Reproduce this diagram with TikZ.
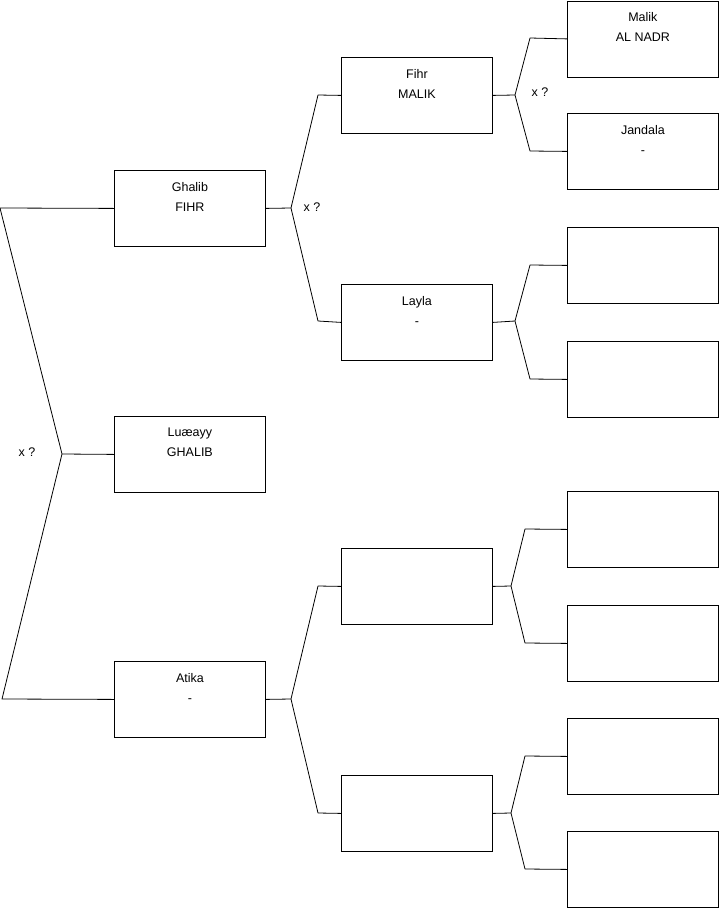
\documentclass[tikz,border=0pt]{standalone}
\usepackage{fontspec}
\setmainfont{Liberation Sans}
\usetikzlibrary{calc}
\tikzset{
  pbox/.style={draw=black, line width=0.8pt, minimum width=151pt, minimum height=76pt, inner sep=0pt, anchor=north west},
  ptext/.style={anchor=north, align=center, font=\fontsize{12.5}{20}\selectfont, inner sep=0pt},
  conn/.style={draw=black, line width=0.8pt, line join=round},
  qlabel/.style={font=\fontsize{12.5}{14}\selectfont, inner sep=0pt}
}
\begin{document}
\begin{tikzpicture}[x=1pt,y=-1pt]
\useasboundingbox (0,0) rectangle (719,908);
% level 1
\node[pbox] (ghalib) at (114,170) {};
\node[pbox] (luaayy) at (114,416) {};
\node[pbox] (atika) at (114,661) {};
% level 2
\node[pbox] (fihr) at (341,57) {};
\node[pbox] (layla) at (341,284) {};
\node[pbox] (e2a) at (341,548) {};
\node[pbox] (e2b) at (341,775) {};
% level 3
\node[pbox] (malik) at (567,0.5) {};
\node[pbox] (jandala) at (567,113) {};
\node[pbox] (e3a) at (567,227) {};
\node[pbox] (e3b) at (567,341) {};
\node[pbox] (e3c) at (567,491) {};
\node[pbox] (e3d) at (567,605) {};
\node[pbox] (e3e) at (567,718) {};
\node[pbox] (e3f) at (567,831) {};
% texts
\node[ptext] (tghalib) at ($(ghalib.north)+(0,12)$) {Ghalib\\FIHR};
\node[ptext] (tluaayy) at ($(luaayy.north)+(0,12)$) {Luæayy\\GHALIB};
\node[ptext] (tatika) at ($(atika.north)+(0,12)$) {Atika\\-};
\node[ptext] (tfihr) at ($(fihr.north)+(0,12)$) {Fihr\\MALIK};
\node[ptext] (tlayla) at ($(layla.north)+(0,12)$) {Layla\\-};
\node[ptext] (tmalik) at ($(malik.north)+(0,12)$) {Malik\\AL NADR};
\node[ptext] (tjandala) at ($(jandala.north)+(0,12)$) {Jandala\\-};
% left bracket
\coordinate (l0) at (0,208);
\coordinate (lv) at (62,454);
\coordinate (l2) at (2,699);
\draw[conn] (ghalib.west) -- (l0) -- (lv) -- (l2) -- (atika.west);
\draw[conn] (lv) -- (luaayy.west);
\node[qlabel] (q1) at (27,452) {x ?};
% Ghalib bracket
\coordinate (gv) at (291,208);
\coordinate (gu) at (318,95);
\coordinate (gd) at (318,321);
\draw[conn] (ghalib.east) -- (gv);
\draw[conn] (fihr.west) -- (gu) -- (gv) -- (gd) -- (layla.west);
\node[qlabel] (q2) at (312,207) {x ?};
% Atika bracket
\coordinate (av) at (291,699);
\coordinate (au) at (318,586);
\coordinate (ad) at (318,813);
\draw[conn] (atika.east) -- (av);
\draw[conn] (e2a.west) -- (au) -- (av) -- (ad) -- (e2b.west);
% Fihr bracket
\coordinate (fv) at (515,95);
\coordinate (fu) at (530,38);
\coordinate (fd) at (530,151);
\draw[conn] (fihr.east) -- (fv);
\draw[conn] (malik.west) -- (fu) -- (fv) -- (fd) -- (jandala.west);
\node[qlabel] (q3) at (540,92) {x ?};
% Layla bracket
\coordinate (yv) at (515,321);
\coordinate (yu) at (530,265);
\coordinate (yd) at (530,379);
\draw[conn] (layla.east) -- (yv);
\draw[conn] (e3a.west) -- (yu) -- (yv) -- (yd) -- (e3b.west);
% e2a bracket
\coordinate (pv) at (511,586);
\coordinate (pu) at (525,529);
\coordinate (pd) at (525,643);
\draw[conn] (e2a.east) -- (pv);
\draw[conn] (e3c.west) -- (pu) -- (pv) -- (pd) -- (e3d.west);
% e2b bracket
\coordinate (sv) at (511,813);
\coordinate (su) at (525,756);
\coordinate (sd) at (525,869);
\draw[conn] (e2b.east) -- (sv);
\draw[conn] (e3e.west) -- (su) -- (sv) -- (sd) -- (e3f.west);
\end{tikzpicture}
\end{document}
